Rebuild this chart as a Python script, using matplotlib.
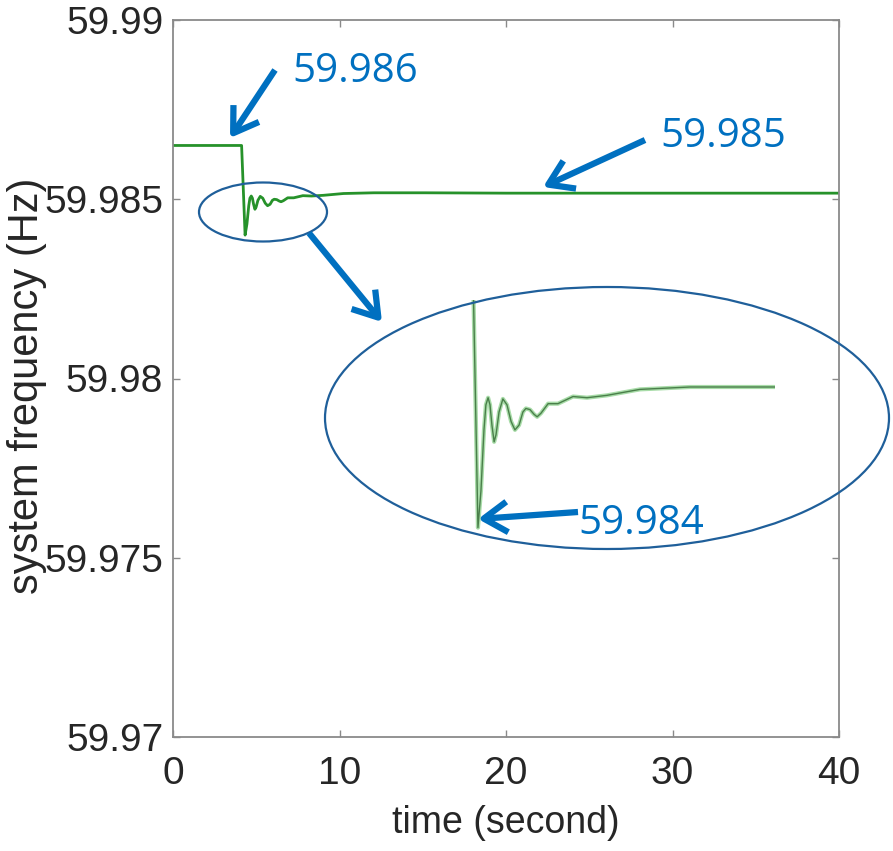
import matplotlib.pyplot as plt
from matplotlib.patches import Ellipse, FancyArrowPatch

# frequency response (dip shape read from the zoomed view)
TIME_S = [0, 4.12, 4.33, 4.44, 4.55, 4.62, 4.70, 4.77, 4.84, 4.92, 4.99, 5.10,
          5.24, 5.39, 5.54, 5.68, 5.83, 5.97, 6.08, 6.23, 6.38, 6.49, 6.63,
          6.89, 7.25, 7.80, 8.31, 9.04, 10.24, 12.07, 13.9, 15.1, 20, 30, 40]
FREQ_HZ = [59.9865, 59.9865, 59.98400, 59.98431, 59.98482, 59.98503, 59.98509,
           59.98503, 59.98486, 59.98472, 59.98478, 59.98497, 59.98508, 59.98503,
           59.98489, 59.98482, 59.98486, 59.98497, 59.98500, 59.98499, 59.98495,
           59.98493, 59.98496, 59.98504, 59.98504, 59.98510, 59.98509, 59.98511,
           59.98516, 59.98518, 59.98518, 59.98518, 59.98517, 59.98517, 59.98517]

X_TICKS = [0, 10, 20, 30, 40]
Y_TICKS = [59.97, 59.975, 59.98, 59.985, 59.99]
Y_TICK_LABELS = ["59.97", "59.975", "59.98", "59.985", "59.99"]
ANNOT_LABELS = ["59.986", "59.985", "59.984"]

W, H = 893, 851
BLUE = "#0070C0"
DARK_BLUE = "#1f5f9a"
SPINE = "#8a8a8a"
TEXT = "#262626"


def px(x, y):
    # figure pixel (top-left origin) -> figure fraction
    return x / W, 1 - y / H


fig = plt.figure(figsize=(W / 100, H / 100), dpi=100)
plt.rcParams["font.family"] = ["Liberation Sans", "DejaVu Sans"]

left, top, right, bottom = 173, 20, 839, 737
ax = fig.add_axes([left / W, 1 - bottom / H, (right - left) / W, (bottom - top) / H])
ax.plot(TIME_S, FREQ_HZ, color="#26922a", lw=2.0, solid_joinstyle="round")
ax.set_xlim(0, 40)
ax.set_ylim(59.97, 59.99)
ax.set_xticks(X_TICKS)
ax.set_yticks(Y_TICKS)
ax.set_yticklabels(Y_TICK_LABELS)
for sp in ax.spines.values():
    sp.set_color(SPINE)
    sp.set_linewidth(1.3)
ax.tick_params(direction="in", length=5, width=1, color=SPINE, labelcolor=TEXT,
               labelsize=28, top=True, right=True)
ax.tick_params(axis="y", pad=7)
ax.tick_params(axis="x", pad=14)
ax.set_xlabel("time (second)", fontsize=27, color=TEXT)
ax.xaxis.set_label_coords(0.5, -0.095)
ax.set_ylabel("system frequency (Hz)", fontsize=30, color=TEXT)
ax.yaxis.set_label_coords((47 - left) / (right - left), 0.49)

# zoomed view of the dip
ix0, iy0, ix1, iy1 = 470, 300, 775, 530
ins = fig.add_axes([ix0 / W, 1 - iy1 / H, (ix1 - ix0) / W, (iy1 - iy0) / H], zorder=3)
ins.patch.set_alpha(0)
ins.axis("off")
ins.plot(TIME_S, FREQ_HZ, color="#a8dca8", lw=3.0, solid_joinstyle="round")
ins.plot(TIME_S, FREQ_HZ, color="#4a7f4a", lw=1.0, solid_joinstyle="round")
ins.set_xlim(4.04, 15.17)
ins.set_ylim(59.98398, 59.98591)

# ellipses
fig.add_artist(Ellipse(px(263, 212), 128 / W, 59 / H, fill=False,
                       edgecolor=DARK_BLUE, lw=1.6, transform=fig.transFigure, zorder=4))
fig.add_artist(Ellipse(px(607, 418), 564 / W, 262 / H, fill=False,
                       edgecolor=DARK_BLUE, lw=1.6, transform=fig.transFigure, zorder=4))

# arrows
arrows = [((275, 70), (230, 138)), ((645, 140), (543, 187)),
          ((309, 233), (382, 322)), ((578, 512), (478, 519))]
for start, end in arrows:
    fig.add_artist(FancyArrowPatch(px(*start), px(*end), transform=fig.transFigure,
                                   arrowstyle="->,head_length=0.85,head_width=0.55",
                                   mutation_scale=20, color=BLUE, lw=4.5,
                                   shrinkA=0, shrinkB=0, capstyle="butt", zorder=5))

text_pos = [(292, 82), (660, 147), (578, 534)]
for label, (x, y) in zip(ANNOT_LABELS, text_pos):
    fig.text(*px(x, y), label, color=BLUE, fontsize=29, family=["Open Sans", "DejaVu Sans"],
             ha="left", va="baseline")

fig.savefig("out.png", dpi=100)
